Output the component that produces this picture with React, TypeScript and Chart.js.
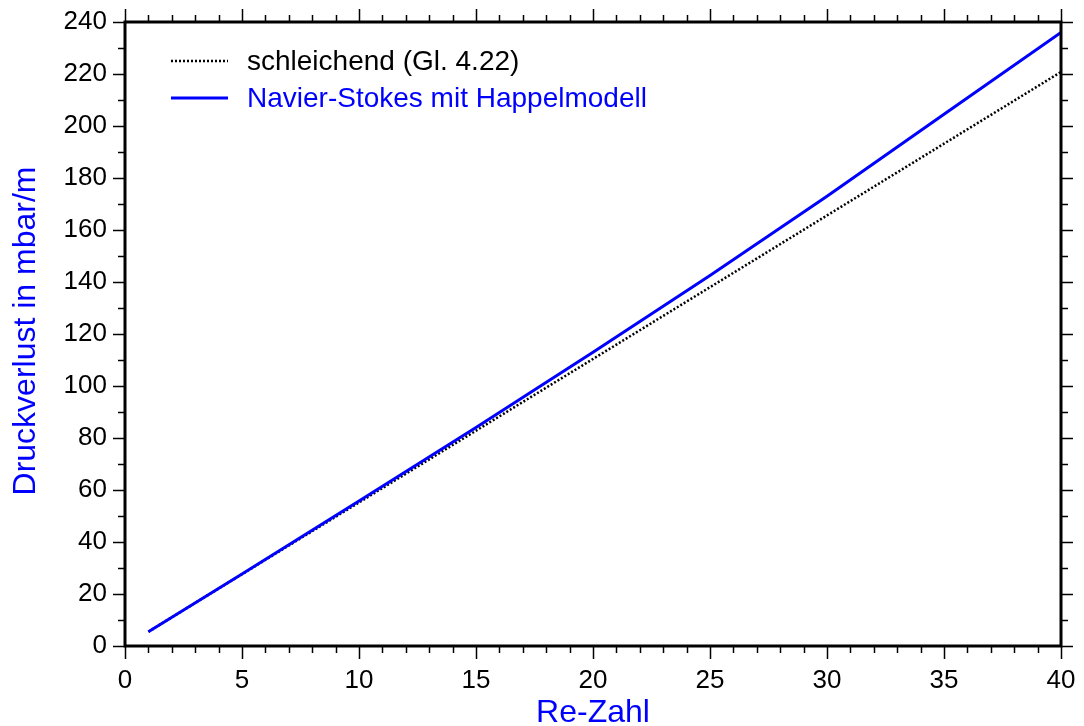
import React, { useEffect, useRef } from "react";
import { Chart, registerables } from "chart.js";

Chart.register(...registerables);

const reValues = [1, 5, 10, 15, 20, 25, 30, 35, 40];
const schleichend = [5.5, 27.6, 55.2, 82.8, 110.4, 138, 165.6, 193.2, 220.8];
const happel = [5.5, 27.7, 55.8, 84, 113, 142.5, 173, 204.5, 236];
const seriesLabels = ["schleichend (Gl. 4.22)", "Navier-Stokes mit Happelmodell"];
const xTitle = "Re-Zahl";
const yTitle = "Druckverlust in mbar/m";

const FONT = "'Liberation Sans', Arial, Helvetica, sans-serif";

const decorPlugin = {
  id: "decor",
  afterDraw(chart: any) {
    const ctx = chart.ctx as CanvasRenderingContext2D;
    const area = chart.chartArea;
    const xs = chart.scales.x;
    const ys = chart.scales.y;
    ctx.save();
    ctx.strokeStyle = "#000";
    ctx.lineWidth = 1.5;
    for (let v = 0; v <= 40; v += 1) {
      const px = Math.round(xs.getPixelForValue(v)) + 0.5;
      const len = v % 5 === 0 ? 13 : 7;
      ctx.beginPath();
      ctx.moveTo(px, area.bottom);
      ctx.lineTo(px, area.bottom + len);
      ctx.moveTo(px, area.top);
      ctx.lineTo(px, area.top - len);
      ctx.stroke();
    }
    for (let v = 0; v <= 240; v += 10) {
      const py = Math.round(ys.getPixelForValue(v)) + 0.5;
      const len = v % 20 === 0 ? 12 : 7;
      ctx.beginPath();
      ctx.moveTo(area.left, py);
      ctx.lineTo(area.left - len, py);
      ctx.moveTo(area.right, py);
      ctx.lineTo(area.right + len, py);
      ctx.stroke();
    }
    ctx.lineWidth = 3;
    ctx.strokeRect(area.left, area.top, area.right - area.left, area.bottom - area.top);

    const ds = chart.data.datasets;
    const rows = [61, 98];
    ctx.font = `28px ${FONT}`;
    ctx.textBaseline = "middle";
    ctx.textAlign = "left";
    ds.forEach((d: any, i: number) => {
      const y = rows[i];
      ctx.beginPath();
      ctx.strokeStyle = d.borderColor;
      ctx.lineWidth = d.borderWidth;
      ctx.setLineDash(d.borderDash || []);
      ctx.moveTo(171, y);
      ctx.lineTo(228, y);
      ctx.stroke();
      ctx.setLineDash([]);
      ctx.fillStyle = d.labelColor;
      ctx.fillText(d.label, 247, y + 1);
    });

    ctx.fillStyle = "#0000ff";
    ctx.font = `32px ${FONT}`;
    ctx.textAlign = "center";
    ctx.textBaseline = "alphabetic";
    ctx.fillText(xTitle, 593, 722);
    ctx.translate(35, 331);
    ctx.rotate(-Math.PI / 2);
    ctx.fillText(yTitle, 0, 0);
    ctx.restore();
  },
};

export default function App() {
  const ref = useRef<HTMLCanvasElement | null>(null);
  useEffect(() => {
    if (!ref.current) return;
    const chart = new Chart(ref.current, {
      type: "line",
      data: {
        datasets: [
          {
            label: seriesLabels[0],
            data: reValues.map((x, i) => ({ x, y: schleichend[i] })),
            borderColor: "#000000",
            borderWidth: 2.5,
            borderDash: [2, 2],
            pointRadius: 0,
            fill: false,
            order: 2,
            labelColor: "#000000",
          } as any,
          {
            label: seriesLabels[1],
            data: reValues.map((x, i) => ({ x, y: happel[i] })),
            borderColor: "#0000ff",
            borderWidth: 3,
            pointRadius: 0,
            fill: false,
            order: 1,
            labelColor: "#0000ff",
          } as any,
        ],
      },
      options: {
        animation: false,
        responsive: true,
        maintainAspectRatio: false,
        layout: { padding: { top: 22, right: 23, left: 0, bottom: 0 } },
        plugins: { legend: { display: false }, tooltip: { enabled: false } },
        scales: {
          x: {
            type: "linear",
            min: 0,
            max: 40,
            grid: { display: false, drawTicks: false },
            border: { display: false },
            ticks: {
              stepSize: 5,
              padding: 19,
              color: "#000",
              font: { family: FONT, size: 26 },
              maxRotation: 0,
            },
            afterFit: (s: any) => {
              s.height = 80;
              s.paddingLeft = 0;
              s.paddingRight = 0;
            },
          },
          y: {
            type: "linear",
            min: 0,
            max: 240,
            grid: { display: false, drawTicks: false },
            border: { display: false },
            ticks: {
              stepSize: 20,
              padding: 18,
              color: "#000",
              font: { family: FONT, size: 26 },
            },
            afterFit: (s: any) => {
              s.width = 125;
              s.paddingTop = 0;
              s.paddingBottom = 0;
            },
          },
        },
      },
      plugins: [decorPlugin],
    });
    return () => chart.destroy();
  }, []);
  return (
    <div style={{ position: "absolute", left: 0, top: 0, width: 1084, height: 726, background: "#fff" }}>
      <canvas ref={ref} />
    </div>
  );
}
